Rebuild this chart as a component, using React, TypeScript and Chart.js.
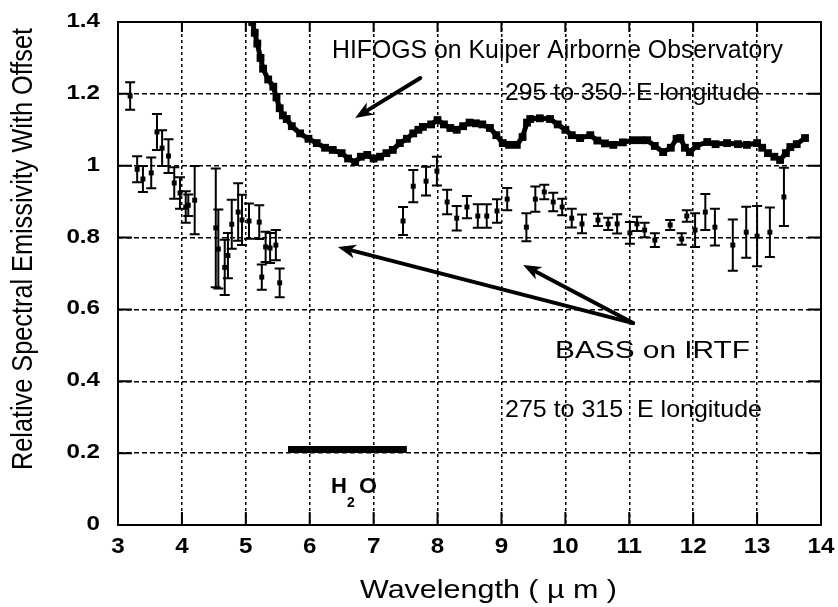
import { useEffect, useRef } from "react";
import { Chart, registerables } from "chart.js";

Chart.register(...registerables);

// ---------- data ----------
const xTickValues = [3, 4, 5, 6, 7, 8, 9, 10, 11, 12, 13, 14];
const yTickValues = [0, 0.2, 0.4, 0.6, 0.8, 1, 1.2, 1.4];
const yTickLabels = ["0", "0.2", "0.4", "0.6", "0.8", "1", "1.2", "1.4"];

// HIFOGS on Kuiper Airborne Observatory (295 to 350 E)
const hifogsX = [
  5.1, 5.14, 5.18, 5.23, 5.27, 5.35, 5.43, 5.48, 5.53, 5.58, 5.64, 5.72, 5.85, 5.98,
  6.11, 6.24, 6.36, 6.5, 6.6, 6.71, 6.8, 6.9, 7.0, 7.1, 7.2, 7.3, 7.41, 7.52, 7.62,
  7.7, 7.77, 7.9, 8.0, 8.1, 8.2, 8.3, 8.4, 8.5, 8.6, 8.7, 8.82, 8.92, 9.02, 9.12,
  9.24, 9.33, 9.4, 9.45, 9.6, 9.76, 9.88, 10.0, 10.1, 10.23, 10.39, 10.5, 10.62,
  10.75, 10.9, 11.06, 11.18, 11.28, 11.4, 11.53, 11.65, 11.74, 11.8, 11.87, 11.95,
  12.05, 12.22, 12.35, 12.53, 12.7, 12.84, 13.0, 13.08, 13.17, 13.27, 13.36, 13.45,
  13.52, 13.62, 13.75,
];
const hifogsY = [
  1.4, 1.37, 1.34, 1.3, 1.27, 1.24, 1.22, 1.19, 1.16, 1.14, 1.13, 1.11, 1.09, 1.075,
  1.063, 1.05, 1.044, 1.035, 1.02, 1.01, 1.025, 1.03, 1.02, 1.025, 1.035, 1.044,
  1.063, 1.075, 1.09, 1.1, 1.108, 1.115, 1.127, 1.115, 1.105, 1.1, 1.11, 1.12, 1.118,
  1.115, 1.105, 1.085, 1.063, 1.058, 1.058, 1.08, 1.12, 1.13, 1.132, 1.13, 1.115,
  1.1, 1.085, 1.077, 1.085, 1.07, 1.062, 1.058, 1.065, 1.071, 1.071, 1.071, 1.055,
  1.038, 1.05, 1.075, 1.077, 1.05, 1.038, 1.055, 1.066, 1.06, 1.063, 1.06, 1.058,
  1.063, 1.05, 1.035, 1.025, 1.016, 1.035, 1.052, 1.06, 1.077,
];

// BASS on IRTF (275 to 315 E), with error-bar half widths
const bassX = [
  3.19, 3.3, 3.39, 3.52, 3.61, 3.69, 3.79, 3.88, 3.97, 4.06, 4.1, 4.2, 4.53, 4.57,
  4.67, 4.72, 4.78, 4.88, 4.94, 5.05, 5.21, 5.25, 5.31, 5.38, 5.47, 5.53, 7.46, 7.62,
  7.82, 7.99, 8.15, 8.3, 8.46, 8.63, 8.77, 8.93, 9.09, 9.39, 9.53, 9.67, 9.81, 9.95,
  10.1, 10.26, 10.51, 10.67, 10.81, 11.01, 11.12, 11.24, 11.4, 11.64, 11.82, 11.9,
  12.03, 12.19, 12.34, 12.62, 12.83, 13.0, 13.2, 13.42,
];
const bassY = [
  1.194, 0.99, 0.963, 0.98, 1.094, 1.049, 1.027, 0.952, 0.924, 0.885, 0.89, 0.904,
  0.827, 0.768, 0.717, 0.75, 0.837, 0.871, 0.849, 0.846, 0.843, 0.69, 0.774, 0.771,
  0.779, 0.674, 0.846, 0.943, 0.957, 0.985, 0.899, 0.854, 0.885, 0.86, 0.86, 0.874,
  0.907, 0.829, 0.907, 0.927, 0.899, 0.885, 0.854, 0.838, 0.849, 0.838, 0.838, 0.813,
  0.838, 0.821, 0.793, 0.835, 0.796, 0.86, 0.821, 0.871, 0.829, 0.779, 0.815, 0.804,
  0.815, 0.913,
];
const bassErr = [
  0.038, 0.036, 0.036, 0.043, 0.05, 0.05, 0.047, 0.044, 0.044, 0.044, 0.03, 0.095,
  0.165, 0.11, 0.077, 0.063, 0.068, 0.08, 0.07, 0.049, 0.047, 0.035, 0.042, 0.042,
  0.042, 0.04, 0.039, 0.045, 0.04, 0.04, 0.034, 0.034, 0.031, 0.033, 0.033, 0.033,
  0.031, 0.039, 0.035, 0.02, 0.026, 0.023, 0.026, 0.026, 0.017, 0.017, 0.027, 0.03,
  0.02, 0.02, 0.019, 0.014, 0.016, 0.016, 0.047, 0.05, 0.051, 0.071, 0.071, 0.084,
  0.069, 0.081,
];

// H2O absorption band
const h2oX = [5.66, 7.52];
const h2oY = [0.21, 0.21];

// annotation arrows (data coordinates: tail -> tip)
const arrowTailX = [7.73, 11.06, 11.06];
const arrowTailY = [1.244, 0.562, 0.562];
const arrowTipX = [6.71, 6.44, 9.34];
const arrowTipY = [1.133, 0.774, 0.724];

const FONT = '"Liberation Sans", Arial, Helvetica, sans-serif';

function fitText(
  ctx: CanvasRenderingContext2D,
  text: string,
  x: number,
  y: number,
  font: string,
  width: number | null,
  align: "left" | "center" | "right" = "left",
  sx?: number
) {
  ctx.save();
  ctx.font = font;
  ctx.textBaseline = "alphabetic";
  ctx.textAlign = "left";
  const w = ctx.measureText(text).width;
  const s = sx ?? (width ? width / w : 1);
  const drawnW = w * s;
  let left = x;
  if (align === "center") left = x - drawnW / 2;
  if (align === "right") left = x - drawnW;
  ctx.translate(left, y);
  ctx.scale(s, 1);
  ctx.fillStyle = "#000";
  ctx.fillText(text, 0, 0);
  ctx.restore();
}

const decor = {
  id: "decor",
  beforeDatasetsDraw(chart: any) {
    const ctx: CanvasRenderingContext2D = chart.ctx;
    const xs = chart.scales.x;
    const ys = chart.scales.y;
    ctx.save();
    ctx.strokeStyle = "#000";
    ctx.lineWidth = 2;
    for (let i = 0; i < bassX.length; i++) {
      const px = xs.getPixelForValue(bassX[i]);
      const top = ys.getPixelForValue(bassY[i] + bassErr[i]);
      const bot = ys.getPixelForValue(bassY[i] - bassErr[i]);
      ctx.beginPath();
      ctx.moveTo(px, top);
      ctx.lineTo(px, bot);
      ctx.moveTo(px - 5, top);
      ctx.lineTo(px + 5, top);
      ctx.moveTo(px - 5, bot);
      ctx.lineTo(px + 5, bot);
      ctx.stroke();
    }
    ctx.restore();
  },
  afterDatasetsDraw(chart: any) {
    const ctx: CanvasRenderingContext2D = chart.ctx;
    const xs = chart.scales.x;
    const ys = chart.scales.y;
    const a = chart.chartArea;
    ctx.save();
    // frame
    ctx.strokeStyle = "#000";
    ctx.lineWidth = 2;
    ctx.setLineDash([]);
    ctx.strokeRect(a.left, a.top, a.right - a.left, a.bottom - a.top);
    // inward ticks
    ctx.beginPath();
    for (const v of xTickValues) {
      const px = xs.getPixelForValue(v);
      ctx.moveTo(px, a.top);
      ctx.lineTo(px, a.top + 10);
      ctx.moveTo(px, a.bottom);
      ctx.lineTo(px, a.bottom - 13);
    }
    for (const v of yTickValues) {
      const py = ys.getPixelForValue(v);
      ctx.moveTo(a.left, py);
      ctx.lineTo(a.left + 14, py);
      ctx.moveTo(a.right, py);
      ctx.lineTo(a.right - 13, py);
    }
    ctx.stroke();

    // arrows
    ctx.fillStyle = "#000";
    ctx.lineWidth = 4;
    ctx.lineCap = "round";
    for (let i = 0; i < arrowTailX.length; i++) {
      const x1 = xs.getPixelForValue(arrowTailX[i]);
      const y1 = ys.getPixelForValue(arrowTailY[i]);
      const x2 = xs.getPixelForValue(arrowTipX[i]);
      const y2 = ys.getPixelForValue(arrowTipY[i]);
      const ang = Math.atan2(y2 - y1, x2 - x1);
      const L = 18;
      const W = 7;
      const bx = x2 - L * Math.cos(ang);
      const by = y2 - L * Math.sin(ang);
      ctx.beginPath();
      ctx.moveTo(x1, y1);
      ctx.lineTo(bx + 4 * Math.cos(ang), by + 4 * Math.sin(ang));
      ctx.stroke();
      ctx.beginPath();
      ctx.moveTo(x2, y2);
      ctx.lineTo(bx + W * Math.sin(ang), by - W * Math.cos(ang));
      ctx.lineTo(bx + 5 * Math.cos(ang), by + 5 * Math.sin(ang));
      ctx.lineTo(bx - W * Math.sin(ang), by + W * Math.cos(ang));
      ctx.closePath();
      ctx.fill();
    }

    // tick labels
    for (let i = 0; i < yTickValues.length; i++) {
      const py = ys.getPixelForValue(yTickValues[i]);
      fitText(ctx, yTickLabels[i], 100, py + 5, `bold 21px ${FONT}`, null, "right", 1.15);
    }
    for (const v of xTickValues) {
      const px = xs.getPixelForValue(v);
      fitText(ctx, String(v), px, a.bottom + 28, `bold 22px ${FONT}`, null, "center", 1.1);
    }

    // axis titles
    fitText(ctx, "Wavelength ( \u00b5 m )", 360, 598, `25px ${FONT}`, 257, "left");
    ctx.save();
    ctx.translate(32, 249);
    ctx.rotate(-Math.PI / 2);
    ctx.font = `25px ${FONT}`;
    const yt = "Relative Spectral Emissivity With Offset";
    const w = ctx.measureText(yt).width;
    ctx.scale(442 / w, 1.2);
    ctx.textAlign = "center";
    ctx.textBaseline = "alphabetic";
    ctx.fillStyle = "#000";
    ctx.fillText(yt, 0, 0);
    ctx.restore();

    // annotations
    fitText(ctx, "HIFOGS on Kuiper Airborne Observatory", 332, 58, `25px ${FONT}`, 451);
    fitText(ctx, "295 to 350  E longitude", 505, 100, `24px ${FONT}`, 255);
    fitText(ctx, "BASS on IRTF", 555, 358, `23px ${FONT}`, 195);
    fitText(ctx, "275 to 315  E longitude", 505, 417, `24px ${FONT}`, 257);
    fitText(ctx, "H", 331, 493, `bold 22px ${FONT}`, null, "left", 1.0);
    fitText(ctx, "2", 347, 507, `bold 14px ${FONT}`, null, "left", 1.0);
    fitText(ctx, "O", 359, 493, `bold 22px ${FONT}`, null, "left", 1.05);
    ctx.restore();
  },
};

export default function App() {
  const ref = useRef<HTMLCanvasElement | null>(null);
  useEffect(() => {
    if (!ref.current) return;
    const chart = new Chart(ref.current, {
      type: "scatter",
      data: {
        datasets: [
          {
            label: "HIFOGS on Kuiper Airborne Observatory",
            data: hifogsX.map((x, i) => ({ x, y: hifogsY[i] })),
            showLine: true,
            borderColor: "#000",
            backgroundColor: "#000",
            borderWidth: 5,
            pointRadius: 2,
            pointStyle: "rect",
            tension: 0,
            segment: {
              borderDash: (c: any) =>
                c.p0.parsed.x >= 13.0 && c.p1.parsed.x <= 13.36 ? [3, 3] : undefined,
              borderWidth: (c: any) =>
                c.p0.parsed.x >= 13.0 && c.p1.parsed.x <= 13.36 ? 2.5 : undefined,
            },
          } as any,
          {
            label: "BASS on IRTF",
            data: bassX.map((x, i) => ({ x, y: bassY[i] })),
            showLine: false,
            pointStyle: "rect",
            pointRadius: 3.5,
            borderWidth: 0,
            backgroundColor: "#000",
            borderColor: "#000",
          },
          {
            label: "H2O",
            data: h2oX.map((x, i) => ({ x, y: h2oY[i] })),
            showLine: true,
            borderColor: "#000",
            borderWidth: 7,
            borderCapStyle: "butt",
            pointRadius: 0,
          } as any,
        ],
      },
      options: {
        responsive: false,
        devicePixelRatio: 1,
        animation: false,
        layout: { padding: { top: 22, right: 17, left: 0, bottom: 0 } },
        plugins: { legend: { display: false }, tooltip: { enabled: false } },
        scales: {
          x: {
            type: "linear",
            min: 3,
            max: 14,
            ticks: { stepSize: 1, display: false },
            grid: { color: "#000", lineWidth: 1.5, drawTicks: false },
            border: { display: false, dash: [3, 3] },
            afterFit: (s: any) => {
              s.height = 82;
            },
          },
          y: {
            type: "linear",
            min: 0,
            max: 1.4,
            ticks: { stepSize: 0.2, display: false },
            grid: { color: "#000", lineWidth: 1.5, drawTicks: false },
            border: { display: false, dash: [5, 3] },
            afterFit: (s: any) => {
              s.width = 118;
            },
          },
        },
      } as any,
      plugins: [decor],
    });
    return () => chart.destroy();
  }, []);
  return (
    <div style={{ position: "absolute", left: 0, top: 0, width: 838, height: 607, background: "#fff" }}>
      <canvas ref={ref} width={838} height={607} style={{ display: "block" }} />
    </div>
  );
}
